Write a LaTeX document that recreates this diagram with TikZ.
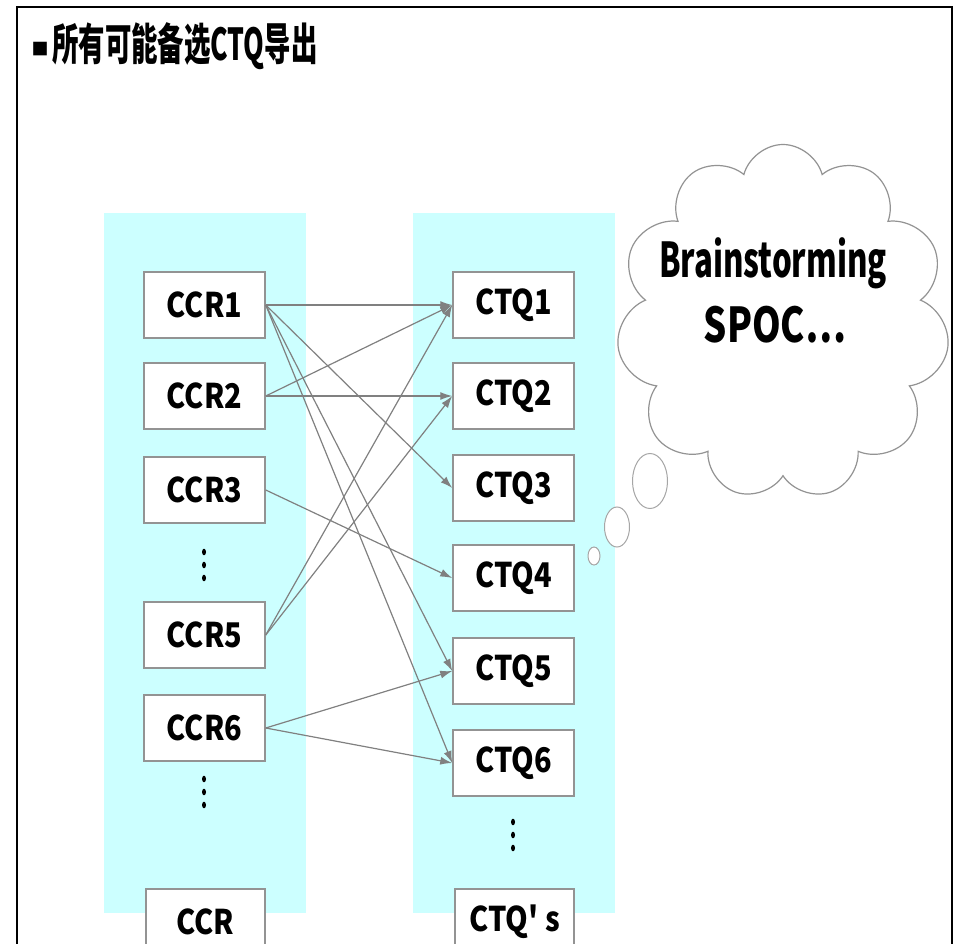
\documentclass[tikz,border=0pt]{standalone}
\usepackage{fontspec}
\setmainfont{Noto Sans CJK SC}
\usepackage{graphicx}
\usepackage{xcolor}
\usetikzlibrary{arrows.meta}
\usetikzlibrary{shapes.symbols}

\definecolor{paleCyan}{RGB}{204,255,255}
\newcommand{\squeeze}[2]{\scalebox{#1}[1]{#2}}

\begin{document}
\begin{tikzpicture}[x=1pt,y=-1pt,
  itembox/.style={draw=gray!85, line width=1.5, fill=white, minimum width=121, minimum height=66, inner sep=0, font=\fontsize{34}{38}\selectfont\bfseries},
  link/.style={draw=gray, line width=1.2, -{Latex[length=12pt,width=8pt]}},
  bubble/.style={draw=gray!70, line width=1, fill=white}]
\useasboundingbox (0,0) rectangle (959,944);
\clip (0,0) rectangle (959,944);

% two columns
\fill[paleCyan] (104,213) rectangle (306,913);
\fill[paleCyan] (413,213) rectangle (615,913);

% frame
\draw[line width=2] (17,960) -- (17,7) -- (952,7) -- (952,960);

% title
\node (bullet) at (40,49) {\fontsize{17}{17}\selectfont ■};
\node[anchor=west, inner sep=0] (title) at (52,46) {\fontsize{44}{48}\selectfont\bfseries\squeeze{0.6}{所有可能备选CTQ导出}};

% CCR boxes
\foreach \name/\yc in {1/305,2/396,3/490,5/635,6/728}{
  \node[itembox] (ccr\name) at (204.5,\yc) {\squeeze{0.85}{CCR\name}};
}
\node[itembox, minimum width=119] (ccr) at (205.5,922) {\squeeze{0.85}{CCR}};

% CTQ boxes
\foreach \name/\yc in {1/305,2/396,3/488,4/578,5/671,6/763}{
  \node[itembox] (ctq\name) at (513.5,\yc) {\squeeze{0.85}{CTQ\name}};
}
\node[itembox, minimum width=119] (ctqs) at (514.5,922) {\squeeze{0.85}{CTQ\textquotesingle\ s}};

% vertical dots
\foreach \xd/\yd in {204/552, 204/779, 513/822}{
  \foreach \k in {0,1,2}
    \fill (\xd,\yd+13*\k) ellipse (2 and 3.3);
}

% links
\foreach \a/\b in {1/1,1/3,1/5,1/6,2/1,2/2,3/4,5/1,5/2,6/5,6/6}
  \draw[link] (ccr\a.east) -- (ctq\b.west);

% thought cloud
\draw[bubble] (594,556) ellipse (6 and 9);
\draw[bubble] (617,527) ellipse (12.5 and 20);
\draw[bubble] (650,481) ellipse (17.5 and 27.5);
\node[cloud, cloud puffs=11, cloud ignores aspect, draw=gray!85, line width=1.2, fill=white, minimum width=333, minimum height=355] (idea) at (783,322) {};
\node[anchor=base, font=\fontsize{48}{52}\selectfont\bfseries] (brain) at (773,278) {\squeeze{0.65}{Brainstorming}};
\node[anchor=base, font=\fontsize{48}{52}\selectfont\bfseries] (spoc) at (775,342) {\squeeze{0.76}{SPOC\ldots}};

\end{tikzpicture}
\end{document}
